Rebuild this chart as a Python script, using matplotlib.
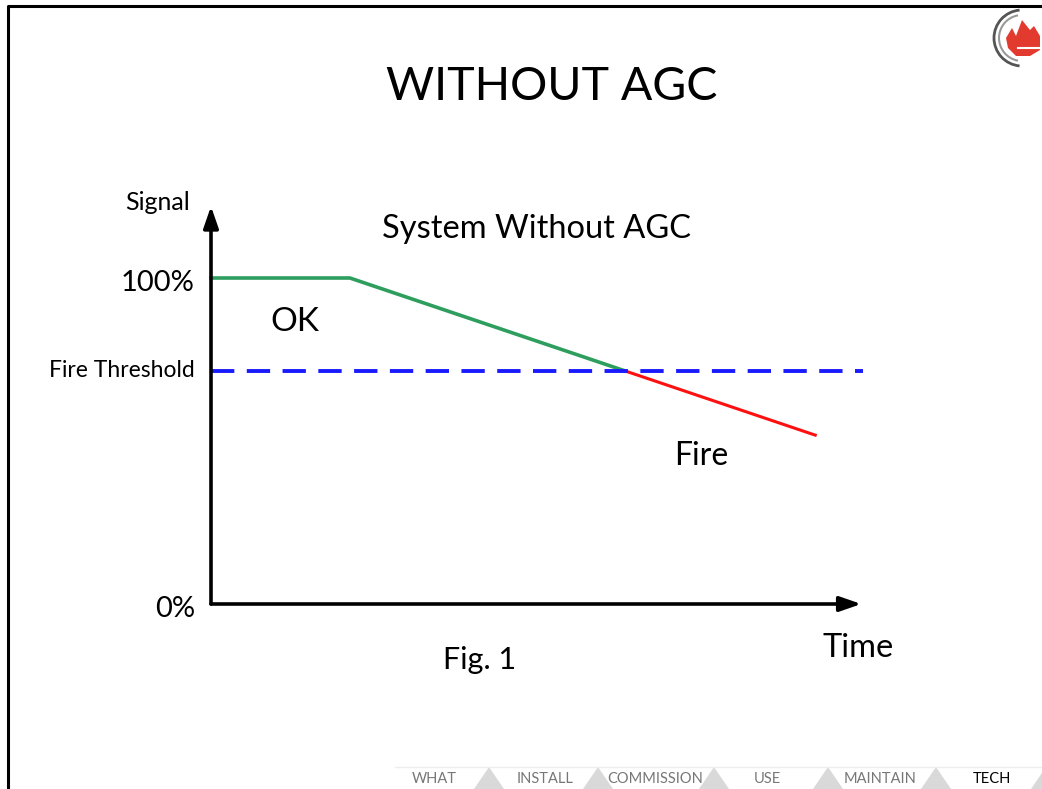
import numpy as np
import matplotlib.pyplot as plt
from matplotlib.patches import Polygon, Arc

plt.rcParams['font.family'] = ['Lato', 'DejaVu Sans']

# chart data (time in arbitrary units, signal in %)
ok_time = [0.0, 2.14, 6.38]
ok_signal = [100.0, 100.0, 71.5]
fire_time = [6.38, 9.31]
fire_signal = [71.5, 51.8]
threshold = 71.5
threshold_span = [0.0, 10.05]
y_ticks = [0, 100]
y_tick_labels = ['0%', '100%']
nav_items = ['WHAT', 'INSTALL', 'COMMISSION', 'USE', 'MAINTAIN', 'TECH']

W, H = 1042, 789
fig = plt.figure(figsize=(W / 100, H / 100), dpi=100)


def px(x, y):
    return x / W, 1 - y / H


# slide frame
bg = fig.add_axes([0, 0, 1, 1])
bg.set_xlim(0, W)
bg.set_ylim(H, 0)
bg.axis('off')
bg.plot([8, 8, W], [H, 6, 6], color='black', lw=2.2, solid_capstyle='butt')

# logo (rough)
bg.add_patch(Arc((1022, 38), 56, 56, theta1=95, theta2=265, color='#555555', lw=2))
bg.add_patch(Arc((1022, 38), 46, 46, theta1=100, theta2=260, color='#999999', lw=1.5))
flame = [(1008, 48), (1006, 38), (1012, 28), (1016, 36), (1022, 20), (1030, 30),
         (1034, 26), (1040, 36), (1040, 50), (1030, 56), (1016, 56)]
bg.add_patch(Polygon(flame, closed=True, color='#e23a2e', lw=0))
bg.plot([1018, 1042], [48, 48], color='white', lw=1.5)

# navigation bar
bg.plot([395, W], [767, 767], color='#eeeeee', lw=1)
nav_x = [434, 545, 655, 767, 880, 992]
tri_x = [489, 598, 714, 828, 936, 1046]
for name, x in zip(nav_items, nav_x):
    bg.text(x, 779, name, ha='center', va='center', fontsize=10.5,
            color='black' if name == 'TECH' else '#777777')
for x in tri_x:
    bg.add_patch(Polygon([(x - 15, 789), (x, 767), (x + 15, 789)], closed=True,
                         color='#d9d9d9', lw=0))

# main chart
ax = fig.add_axes([211 / W, 185 / H, 649 / W, 326 / H])
ax.set_xlim(0, 10)
ax.set_ylim(0, 100)
ax.axis('off')

ax.plot(ok_time, ok_signal, color='#2e9e5e', lw=2.6, clip_on=False)
ax.plot(fire_time, fire_signal, color='#ff1010', lw=2.2, clip_on=False)
ax.plot(threshold_span, [threshold, threshold], color='#1a1aff', lw=2.8,
        dashes=(6, 3.2), clip_on=False)

# axes with arrowheads
ax.annotate('', xy=(0, 122), xytext=(0, 0),
            arrowprops=dict(arrowstyle='-|>,head_length=1.3,head_width=0.45',
                            color='black', lw=2.6, shrinkA=0, shrinkB=0),
            annotation_clip=False)
ax.annotate('', xy=(10.02, 0), xytext=(0, 0),
            arrowprops=dict(arrowstyle='-|>,head_length=1.3,head_width=0.45',
                            color='black', lw=2.6, shrinkA=0, shrinkB=0),
            annotation_clip=False)

for v, lab in zip(y_ticks, y_tick_labels):
    ax.text(-0.25, v - 1.5, lab, ha='right', va='center', fontsize=21)
ax.text(-0.25, threshold, 'Fire Threshold', ha='right', va='center', fontsize=16.5)

fig.text(*px(552, 87), 'WITHOUT AGC', ha='center', va='center', fontsize=33.5)
fig.text(*px(190, 202), 'Signal', ha='right', va='center', fontsize=18)
fig.text(*px(536, 229), 'System Without AGC', ha='center', va='center', fontsize=23.5)
fig.text(*px(295, 322), 'OK', ha='center', va='center', fontsize=24)
fig.text(*px(701, 456), 'Fire', ha='center', va='center', fontsize=23)
fig.text(*px(480, 660), 'Fig. 1', ha='center', va='center', fontsize=22)
fig.text(*px(858, 648), 'Time', ha='center', va='center', fontsize=23.5)

fig.savefig('out.png', dpi=100)
